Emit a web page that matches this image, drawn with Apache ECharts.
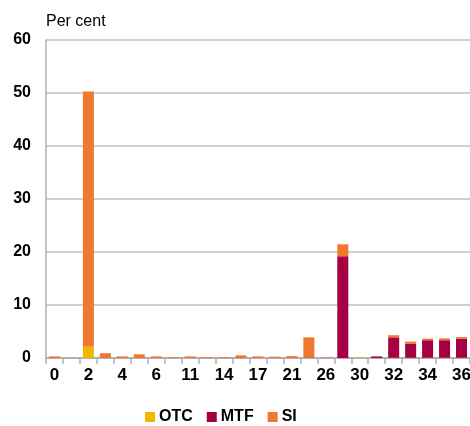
<!DOCTYPE html>
<html><head><meta charset="utf-8">
<script src="https://cdn.jsdelivr.net/npm/echarts@6/dist/echarts.min.js"></script>
<style>html,body{margin:0;padding:0;background:#fff}#c{width:470px;height:426px}</style>
</head><body><div id="c"></div>
<script>
const categories = ['0','1','2','3','4','5','6','9','11','12','14','15','17','19','21','24','26','28','30','31','32','33','34','35','36'];
const otc = [0,0,2.1,0,0,0,0,0,0,0,0,0,0,0,0,0,0,0,0.1,0,0.05,0.05,0.05,0.05,0.05];
const mtf = [0,0,0,0,0,0,0,0,0,0,0,0,0,0,0,0,0,19.2,0,0.3,3.85,2.6,3.3,3.3,3.6];
const si  = [0.3,0,48.2,0.9,0.3,0.7,0.3,0.15,0.3,0.15,0.15,0.5,0.3,0.25,0.35,3.9,0.1,2.25,0,0,0.4,0.45,0.3,0.35,0.3];
const yTicks = [0,10,20,30,40,50,60];

const chart = echarts.init(document.getElementById('c'), null, {renderer:'canvas'});
const font = "Liberation Sans, Arial, sans-serif";
const mk = (name, data, color) => ({
  name, type:'bar', stack:'s', data, barWidth:'65%',
  itemStyle:{color}, emphasis:{disabled:true}
});
chart.setOption({
  animation:false,
  textStyle:{fontFamily:font},
  title:{text:'Per cent', left:46, top:14, padding:0, textStyle:{fontFamily:font, fontSize:16, fontWeight:'normal', color:'#000'}},
  grid:{left:46, top:40, right:0, bottom:68, containLabel:false, outerBoundsMode:'none'},
  legend:{
    top:409, left:145, itemWidth:10, itemHeight:10, itemGap:14,
    icon:'rect', padding:0,
    textStyle:{fontFamily:font, fontSize:16, fontWeight:'bold', color:'#000', padding:[0,0,0,-1]},
    data:['OTC','MTF','SI']
  },
  xAxis:{
    type:'category', data:categories,
    axisLine:{lineStyle:{color:'#b0b0b0', width:2}},
    axisTick:{show:true, length:6, lineStyle:{color:'#b0b0b0', width:1.5}, alignWithLabel:false, interval:0},
    axisLabel:{interval:1, fontFamily:font, fontSize:17, fontWeight:'bold', color:'#000', margin:9, hideOverlap:false}
  },
  yAxis:{
    type:'value', min:yTicks[0], max:yTicks[yTicks.length-1], interval:10,
    axisLine:{show:true, lineStyle:{color:'#b0b0b0', width:1.5}},
    axisTick:{show:false},
    splitLine:{lineStyle:{color:'#c0c0c0', width:1.5}},
    axisLabel:{fontFamily:font, fontSize:16, fontWeight:'bold', color:'#000', margin:15}
  },
  series:[
    mk('OTC', otc, '#f2b700'),
    mk('MTF', mtf, '#a60044'),
    mk('SI', si, '#ef7730')
  ]
});
</script></body></html>
